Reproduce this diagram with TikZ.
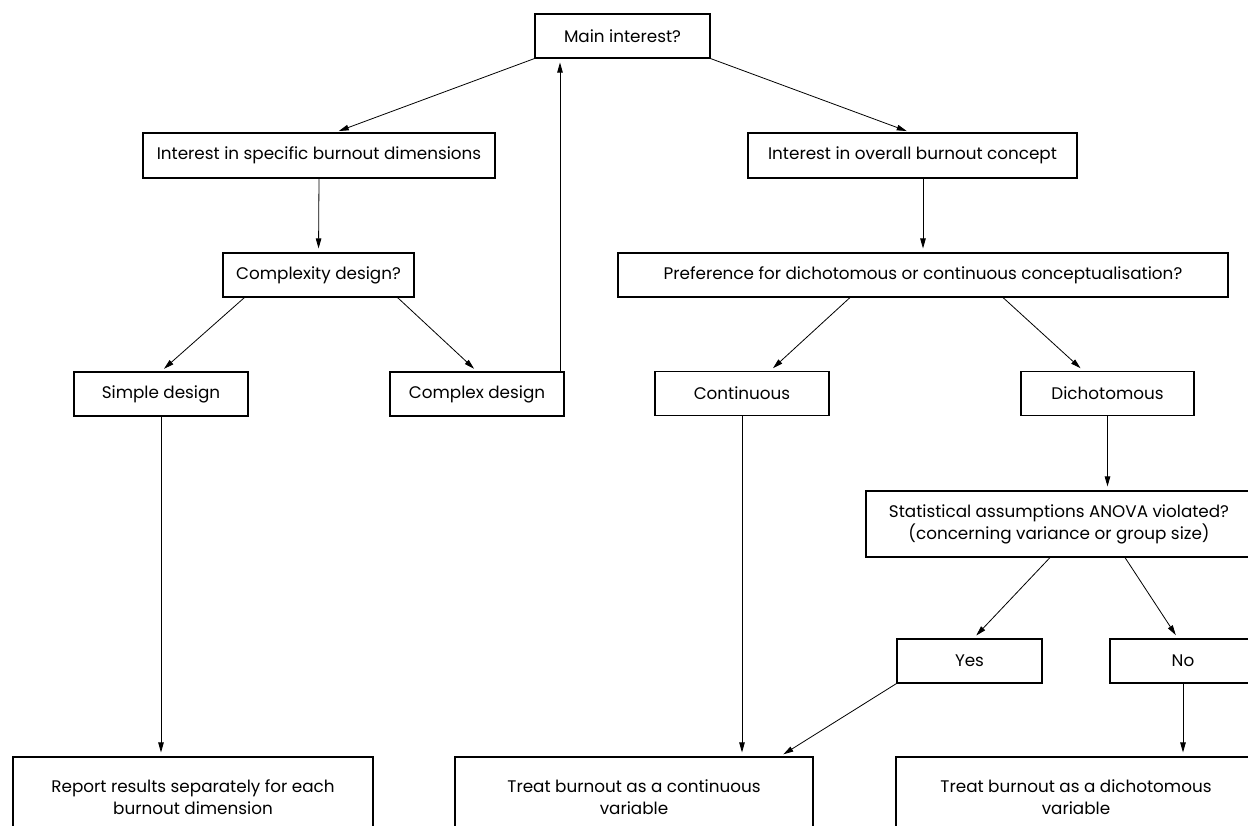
\documentclass[tikz,border=0pt]{standalone}
\usepackage{fontspec}
\setmainfont{Poppins}
\usetikzlibrary{positioning,calc,arrows.meta}

\begin{document}
\begin{tikzpicture}[
    x=1pt, y=-1pt,
    box/.style={draw, line width=1.1pt, inner sep=0pt, minimum height=44pt, align=center, font=\fontsize{16.8}{22}\selectfont},
    flow/.style={draw, line width=0.8pt, -{Triangle[length=10pt,width=5.5pt]}, shorten >=4pt}
]
\useasboundingbox (0,0) rectangle (1248,826);

% Define node positions
\node[box, minimum width=175pt] (main) at (622.5,36) {Main interest?};
\node[box, minimum width=352pt, minimum height=45pt] (spec) at (319,155.5) {Interest in specific burnout dimensions};
\node[box, minimum width=329pt, minimum height=45pt] (overall) at (912.5,155.5) {Interest in overall burnout concept};
\node[box, minimum width=191pt] (cplx) at (318.5,275) {Complexity design?};
\node[box, minimum width=610pt] (pref) at (923,275) {Preference for dichotomous or continuous conceptualisation?};
\node[box, minimum width=174pt] (simple) at (161,394) {Simple design};
\node[box, minimum width=174pt] (complex) at (477,394) {Complex design};
\node[box, minimum width=174pt] (cont) at (742,393.5) {Continuous};
\node[box, minimum width=173pt] (dich) at (1107.5,393.5) {Dichotomous};
\node[box, minimum width=386pt, minimum height=66pt] (stat) at (1059,524) {Statistical assumptions ANOVA violated?\\(concerning variance or group size)};
\node[box, minimum width=145pt] (yes) at (969.5,661) {Yes};
\node[box, minimum width=146pt] (no) at (1183,661) {No};

% Outcome boxes (cut off at the bottom)
\node[box, minimum width=360pt, minimum height=80pt] (report) at (193,797) {Report results separately for each\\burnout dimension};
\node[box, minimum width=358pt, minimum height=80pt] (treatc) at (634,797) {Treat burnout as a continuous\\variable};
\node[box, minimum width=360pt, minimum height=80pt] (treatd) at (1076,797) {Treat burnout as a dichotomous\\variable};

% Draw connectors
\draw[flow] (main.south west) -- ($(spec.north)+(16,0)$);
\draw[flow] (main.south east) -- ($(overall.north)+(-2,0)$);
\draw[flow] ($(complex.north)+(83,0)$) -- ($(main.south)+(-62.5,0)$);
\draw[flow] (spec.south) -- (cplx.north);
\draw[flow] ($(cplx.south west)+(22,0)$) -- (simple.north);
\draw[flow] ($(cplx.south east)+(-17,0)$) -- (complex.north);
\draw[flow] (pref.north |- overall.south) -- (pref.north);
\draw[flow] ($(pref.south)+(-73,0)$) -- ($(cont.north)+(28,0)$);
\draw[flow] ($(pref.south)+(80,0)$) -- ($(dich.north)+(-24,0)$);
\draw[flow] (simple.south) -- (simple.south |- report.north);
\draw[flow] (cont.south) -- (cont.south |- treatc.north);
\draw[flow] (dich.south) -- (dich.south |- stat.north);
\draw[flow] ($(stat.south)+(-9,0)$) -- ($(yes.north)+(4,0)$);
\draw[flow] ($(stat.south)+(66,0)$) -- ($(no.north)+(-5,0)$);
\draw[flow] (yes.south west) -- ($(treatc.north)+(146,0)$);
\draw[flow] (no.south) -- (no.south |- treatd.north);

\end{tikzpicture}
\end{document}
